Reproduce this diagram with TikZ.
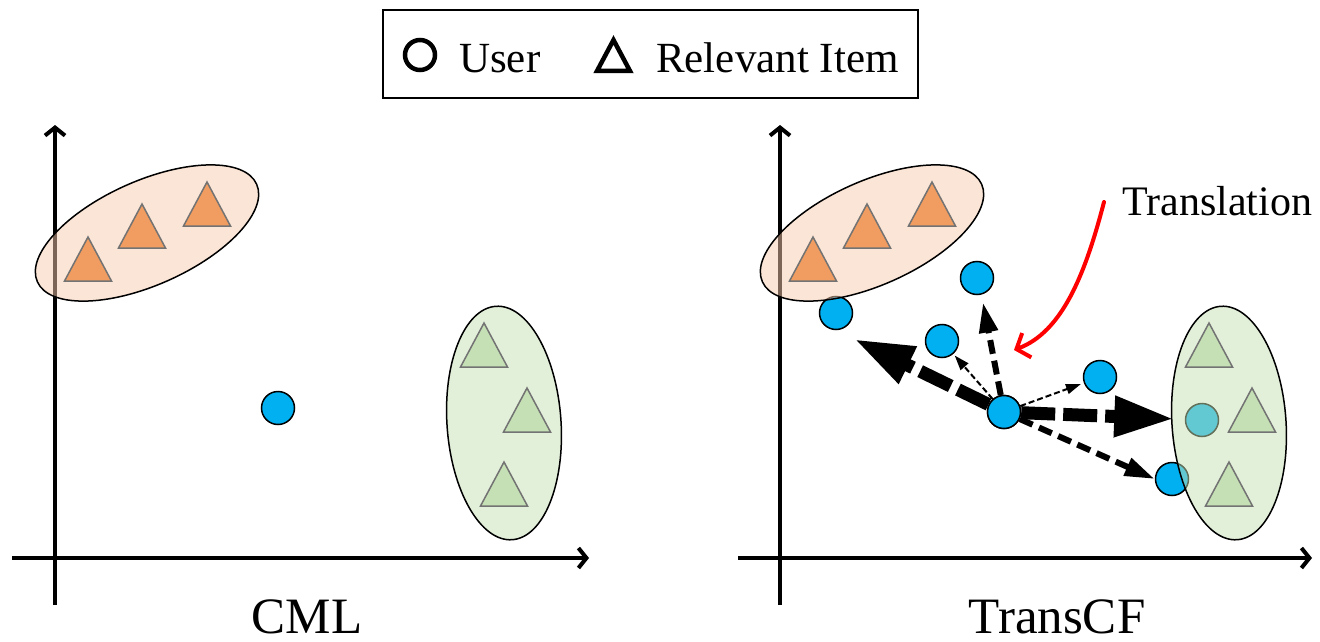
\documentclass[tikz,border=0pt]{standalone}
\usepackage{fontspec}
\setmainfont{Liberation Serif}
\usetikzlibrary{arrows.meta}
\definecolor{ublue}{HTML}{00B0F0}
\definecolor{otri}{RGB}{241,156,96}
\definecolor{oell}{HTML}{F8CBAD}
\definecolor{gtri}{HTML}{C5E0B4}
\definecolor{gell}{HTML}{C5E0B4}
\newcommand\itri[3]{\draw[tri, fill=#3] (#1-23.5,#2+44) -- (#1,#2) -- (#1+23.5,#2+44) -- cycle;}
\begin{document}
\begin{tikzpicture}[x=1pt,y=-1pt,
  axis/.style={line width=4pt, -{Straight Barb[length=8pt,width=20pt]}},
  user/.style={circle, draw=black, line width=1.5pt, fill=ublue, minimum size=33pt, inner sep=0pt},
  grp/.style={draw=black, line width=1.5pt, fill opacity=0.5},
  tri/.style={draw=black!55, line width=1.5pt},
  bigarr/.style={line width=13pt, dash pattern=on 34pt off 8pt, -{Triangle[length=60pt,width=38pt]}},
  medarr/.style={line width=6pt, dash pattern=on 14pt off 7pt, -{Triangle[length=30pt,width=18pt]}},
  thinarr/.style={line width=2pt, dash pattern=on 6pt off 3pt, -{Triangle[length=15pt,width=10pt]}},
  lbl/.style={inner sep=0pt, font=\fontsize{51}{60}\selectfont},
  leg/.style={inner sep=0pt, font=\fontsize{43}{50}\selectfont}
]
\useasboundingbox (0,0) rectangle (1320,642);

% legend
\node[draw, line width=2pt, minimum width=535pt, minimum height=87pt, inner sep=0pt] (legend) at (650,54) {};
\node[circle, draw=black, line width=4.5pt, minimum size=30pt, inner sep=0pt] (legc) at (420,55) {};
\node[leg, anchor=base west] (legu) at (459,73) {User};
\draw[line width=4.5pt] (597,71) -- (613.5,40) -- (630,71) -- cycle;
\node[leg, anchor=base west] (legi) at (656,73) {Relevant Item};

% axes
\coordinate (l0) at (55,605); \coordinate (l1) at (55,125);
\coordinate (l2) at (12,558); \coordinate (l3) at (589,558);
\coordinate (r0) at (780,605); \coordinate (r1) at (780,125);
\coordinate (r2) at (738,558); \coordinate (r3) at (1312,558);
\draw[axis] (l0) -- (l1);
\draw[axis] (l2) -- (l3);
\draw[axis] (r0) -- (r1);
\draw[axis] (r2) -- (r3);

% users (under groups)
\node[user] (cu) at (278,408) {};
\node[user] (a) at (836,313) {};
\node[user] (e) at (1202,420) {};
\node[user] (f) at (1172,479) {};

% groups
\draw[grp, fill=oell, rotate around={24:(147,233)}] (147,233) ellipse [x radius=120pt, y radius=52pt];
\draw[grp, fill=gell, rotate around={4:(504,423)}] (504,423) ellipse [x radius=57pt, y radius=117pt];
\draw[grp, fill=oell, rotate around={24:(872,233)}] (872,233) ellipse [x radius=120pt, y radius=52pt];
\draw[grp, fill=gell, rotate around={4:(1229,423)}] (1229,423) ellipse [x radius=57pt, y radius=117pt];

% items
\itri{88}{237}{otri}
\itri{142}{204}{otri}
\itri{207}{182}{otri}
\itri{484}{323}{gtri}
\itri{527}{388}{gtri}
\itri{504}{462}{gtri}
\itri{813}{237}{otri}
\itri{867}{204}{otri}
\itri{932}{182}{otri}
\itri{1209}{323}{gtri}
\itri{1252}{388}{gtri}
\itri{1229}{462}{gtri}

% other users
\node[user] (u) at (1004,412) {};
\node[user] (b) at (977,278) {};
\node[user] (c) at (942,341) {};
\node[user] (d) at (1100,377) {};

% translations
\draw[bigarr, shorten >=20pt] (u) -- (a.south);
\draw[medarr, shorten >=8pt] (u) -- (b.-75);
\draw[thinarr, shorten >=2pt] (u) -- (c);
\draw[thinarr, shorten >=3pt] (u) -- (d);
\draw[bigarr, shorten >=10.5pt] (u) -- (e);
\draw[medarr] (u) -- (f.west);
\node[user] at (u) {};

% annotation
\coordinate (rs) at (1104,202);
\coordinate (rt) at (1014,350);
\draw[red, line width=4pt, line cap=round, -{Straight Barb[length=11pt,width=26pt]}] (rs) .. controls (1085,275) and (1062,332) .. (rt);
\node[inner sep=0pt, anchor=base west, font=\fontsize{42}{50}\selectfont] (tr) at (1122,215) {Translation};

% labels
\node[lbl, anchor=base] (cml) at (307,633) {CML};
\node[lbl, anchor=base] (tcf) at (1057,633) {TransCF};
\end{tikzpicture}
\end{document}
